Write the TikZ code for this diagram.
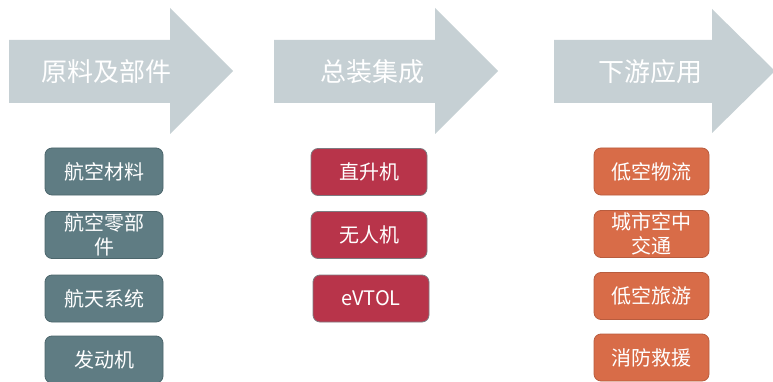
\documentclass[tikz,border=0pt]{standalone}
\usepackage{fontspec}
\newfontfamily\cjk{Noto Sans CJK SC}
\definecolor{arrowgray}{HTML}{C6D0D4}
\definecolor{tealbox}{HTML}{5F7C83}
\definecolor{tealedge}{HTML}{4C666C}
\definecolor{redbox}{HTML}{B8344A}
\definecolor{rededge}{HTML}{7E7A80}
\definecolor{orangebox}{HTML}{D86C48}
\definecolor{orangeedge}{HTML}{B85C3E}
\tikzset{
  bigarrow/.style={fill=arrowgray, draw=none},
  arrowtext/.style={text=white, font=\cjk\fontsize{26}{28}\selectfont},
  itembox/.style={rounded corners=7pt, minimum height=47pt, align=center, text=white,
     font=\cjk\fontsize{20}{24}\selectfont, line width=0.8pt, inner sep=0pt},
  tealitem/.style={itembox, fill=tealbox, draw=tealedge, minimum width=118pt},
  reditem/.style={itembox, fill=redbox, draw=rededge, minimum width=116pt},
  orangeitem/.style={itembox, fill=orangebox, draw=orangeedge, minimum width=115pt},
}
\begin{document}
\begin{tikzpicture}[x=1pt,y=-1pt]
\useasboundingbox (0,0) rectangle (773,382);
% arrows
\fill[bigarrow] (9,40) -- (170,40) -- (170,8) -- (233,71) -- (170,134) -- (170,103) -- (9,103) -- cycle;
\fill[bigarrow] (274,40) -- (435,40) -- (435,8) -- (498,71) -- (435,134) -- (435,103) -- (274,103) -- cycle;
\fill[bigarrow] (554,40) -- (712,40) -- (712,9) -- (775,71) -- (712,133) -- (712,103) -- (554,103) -- cycle;
\node[arrowtext] (h1) at (106,72) {原料及部件};
\node[arrowtext] (h2) at (372,72) {总装集成};
\node[arrowtext] (h3) at (650,72) {下游应用};
% left column
\node[tealitem] (l1) at (104,171.5) {航空材料};
\node[tealitem] (l2) at (104,235) {航空零部\\件};
\node[tealitem] (l3) at (104,298.5) {航天系统};
\node[tealitem] (l4) at (104,359.5) {发动机};
% middle column
\node[reditem] (m1) at (369,172) {直升机};
\node[reditem] (m2) at (369,235) {无人机};
\node[reditem] (m3) at (371,298.5) {eVTOL};
% right column
\node[orangeitem] (r1) at (651.5,171.5) {低空物流};
\node[orangeitem] (r2) at (651.5,234) {城市空中\\交通};
\node[orangeitem] (r3) at (651.5,296) {低空旅游};
\node[orangeitem] (r4) at (651.5,357.5) {消防救援};
\end{tikzpicture}
\end{document}
